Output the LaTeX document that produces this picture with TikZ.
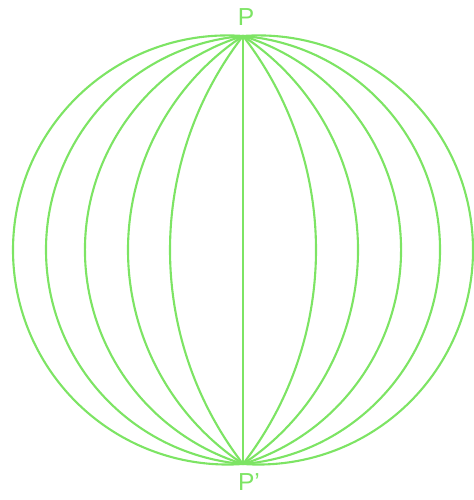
\documentclass[tikz,border=0pt]{standalone}
\usepackage{fontspec}
\setmainfont{Liberation Sans}
\definecolor{mer}{RGB}{125,228,100}
\begin{document}
\begin{tikzpicture}[meridian/.style={draw=mer,line width=0.6pt},
  lbl/.style={text=mer,font=\fontsize{7}{8}\selectfont,inner sep=0pt}]
\useasboundingbox (0,0) rectangle (4.73,5);
\coordinate (P) at (2.43,4.64);
\coordinate (Q) at (2.43,0.36);
\draw[meridian] (P) -- (Q);
\foreach \d in {0.73,1.15,1.58,1.97,2.30}{
  \pgfmathsetmacro\R{(2.14*2.14+\d*\d)/(2*\d)}
  \pgfmathsetmacro\t{atan2(2.14,\R-\d)}
  \draw[meridian] (P) arc[start angle=\t, end angle=-\t, radius=\R];
  \draw[meridian] (P) arc[start angle=180-\t, end angle=180+\t, radius=\R];
}
\node[lbl] (lp) at (2.46,4.83) {P};
\node[lbl] (lq) at (2.49,0.18) {P'};
\end{tikzpicture}
\end{document}
